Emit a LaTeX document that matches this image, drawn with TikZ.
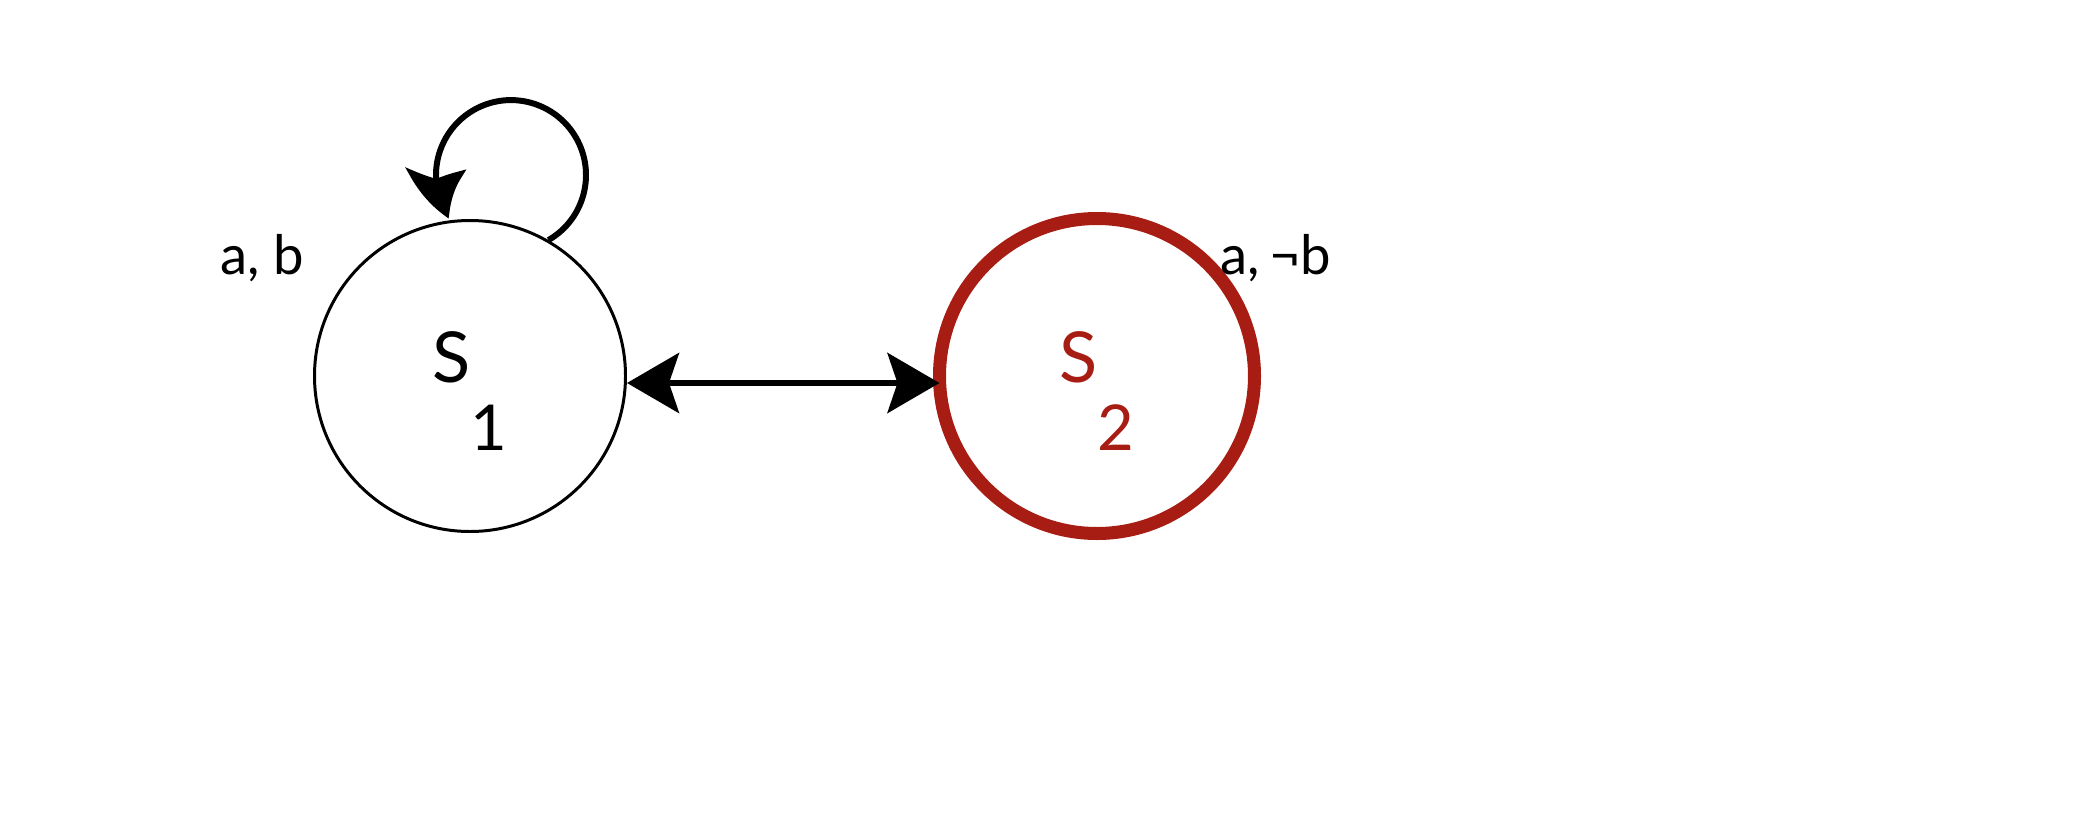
\documentclass[tikz,border=0pt]{standalone}
\usepackage{fontspec}
\setmainfont{Lato}
\usepackage{xcolor}
\usetikzlibrary{arrows.meta,bending,positioning}
\definecolor{accred}{HTML}{A71C13}

\begin{document}
\begin{tikzpicture}
[every node/.style={inner sep=0pt},
 state/.style={circle,draw,inner sep=0pt,text height=0.5cm,text depth=0.38cm,font=\fontsize{20}{24}\selectfont},
 lbl/.style={font=\fontsize{15.5}{19}\selectfont}]
   \useasboundingbox (0,0) rectangle (20.83,8.33);
   \node[state,line width=0.85pt,minimum size=3.11cm] (s_1) at (4.70,4.57) {S\smash{\raisebox{-0.68cm}{\fontsize{18}{20}\selectfont 1}}};
   \node[state,draw=accred,text=accred,line width=3.7pt,minimum size=3.15cm,outer sep=0pt] (s_2) at (10.97,4.57) {S\smash{\raisebox{-0.68cm}{\fontsize{18}{20}\selectfont 2}}};
   \node[lbl] (l_1) at (2.62,5.75) {a, b};
   \node[lbl] (l_2) at (12.76,5.75) {a,\,¬b};
    \draw[line width=1.7pt,{Stealth[length=0.52cm,width=0.6cm,inset=0.1cm]}-{Stealth[length=0.52cm,width=0.6cm,inset=0.1cm]}]
    ([yshift=-0.07cm]s_1.east) -- ([yshift=-0.07cm]s_2.west);
    \draw[line width=1.7pt,-{Stealth[length=0.52cm,width=0.6cm,inset=0.1cm,bend]}]
    (s_1.60) arc[start angle=-60,end angle=215,radius=0.75cm];
\end{tikzpicture}
\end{document}
